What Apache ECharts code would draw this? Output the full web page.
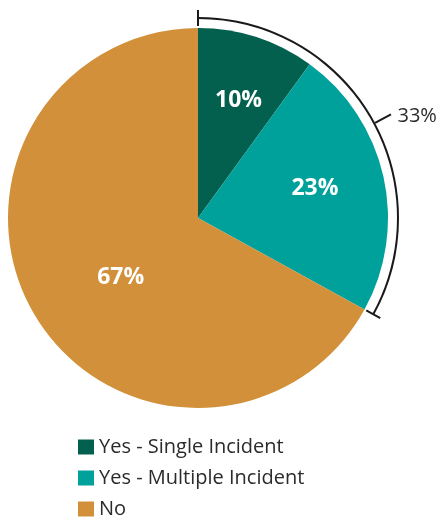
<!DOCTYPE html>
<html>
<head>
<meta charset="utf-8">
<script src="https://cdn.jsdelivr.net/npm/echarts@6/dist/echarts.min.js"></script>
<style>html,body{margin:0;padding:0;background:#fff}#c{width:438px;height:519px}</style>
</head>
<body>
<div id="c"></div>
<script>
const categories = ['Yes - Single Incident', 'Yes - Multiple Incident', 'No'];
const values = [10, 23, 67];
const bracketValue = 33;
const bracketLabel = '33%';

const colors = ['#03604F', '#00A19B', '#D19039'];
const labelShift = [[1, 4], [-8, -2], [7, 10]];
const FONT = 'Open Sans';
const cx = 198, cy = 218, R = 190;
const total = values.reduce((a, b) => a + b, 0);

function radial(frac, r1, r2, z) {
  const a = frac * 2 * Math.PI;
  return {
    type: 'line',
    shape: { x1: cx + r1 * Math.sin(a), y1: cy - r1 * Math.cos(a), x2: cx + r2 * Math.sin(a), y2: cy - r2 * Math.cos(a) },
    style: { stroke: '#1a1a1a', lineWidth: 2 },
    z: 10
  };
}
function shiftLayout(p) {
  const s = labelShift[p.dataIndex] || [0, 0];
  return { dx: s[0], dy: s[1] };
}

const chart = echarts.init(document.getElementById('c'));
const labelStyle = { color: '#fff', fontFamily: FONT, fontWeight: 'bold', fontSize: 23 };
chart.setOption({
  animation: false,
  color: colors,
  legend: {
    data: categories,
    orient: 'vertical',
    left: 78,
    top: 437,
    padding: 0,
    icon: 'rect',
    itemWidth: 16,
    itemHeight: 15,
    itemGap: 11,
    textStyle: { fontFamily: FONT, fontSize: 20, color: '#2b2b2b' },
    selectedMode: false
  },
  graphic: [
    radial(0, 192, 208),
    radial(bracketValue / total, 192, 208),
    radial(bracketValue / total * 0.52, 201, 219)
  ],
  series: [
    {
      type: 'pie',
      center: [cx, cy],
      radius: [0, R],
      startAngle: 90,
      silent: true,
      itemStyle: { borderWidth: 0 },
      labelLine: { show: false },
      labelLayout: shiftLayout,
      data: categories.map((n, i) => ({
        name: n, value: values[i],
        itemStyle: { color: colors[i] },
        label: Object.assign({ show: i === 2, position: 'inside', formatter: '{c}%' }, labelStyle)
      }))
    },
    {
      type: 'pie',
      center: [cx, cy],
      radius: [60, R],
      startAngle: 90,
      silent: true,
      labelLine: { show: false },
      labelLayout: shiftLayout,
      data: categories.map((n, i) => ({
        name: n + ' ', value: values[i],
        itemStyle: { color: 'rgba(0,0,0,0)' },
        label: Object.assign({ show: i < 2, position: 'inside', formatter: '{c}%' }, labelStyle)
      }))
    },
    {
      type: 'pie',
      center: [cx, cy],
      radius: [199, 201],
      startAngle: 90,
      silent: true,
      labelLayout: function () { return { dx: 4, dy: 10 }; },
      data: [
        { name: bracketLabel, value: bracketValue, itemStyle: { color: '#1a1a1a' },
          label: { show: true, position: 'outside', overflow: 'none', width: 60, formatter: bracketLabel, fontFamily: FONT, fontSize: 20, color: '#2b2b2b', padding: [0, 0, 0, 2] },
          labelLine: { show: false, length: 18, length2: 0 } },
        { name: 'rest', value: total - bracketValue, itemStyle: { color: 'rgba(0,0,0,0)' }, label: { show: false }, labelLine: { show: false } }
      ]
    }
  ]
});
</script>
</body>
</html>
